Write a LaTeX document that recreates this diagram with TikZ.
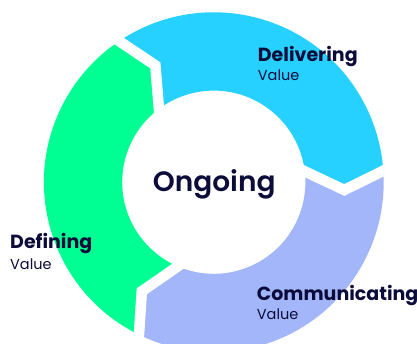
\documentclass[tikz,border=0pt]{standalone}
\usepackage{fontspec}
\setmainfont{Poppins}
\newfontfamily\ongoingfont{Poppins SemiBold}
\usepackage{tikz}

\definecolor{ciano}{HTML}{26D0FF}
\definecolor{verde}{HTML}{00FF92}
\definecolor{lilas}{HTML}{A2B6F9}
\definecolor{marinho}{HTML}{0C0C3A}

\tikzset{
  titulo/.style={anchor=base west,inner sep=0pt,text=marinho,font=\fontsize{19}{19}\selectfont\bfseries},
  valor/.style={anchor=base west,inner sep=0pt,text=marinho,font=\fontsize{14.5}{14.5}\selectfont}
}

\begin{document}
\begin{tikzpicture}[x=1pt,y=1pt]
        % Moldura
        \useasboundingbox (-213.8,-161.8) rectangle (203.2,182.2);
        \clip (-213.8,-161.8) rectangle (203.2,182.2);

        % Setores do anel
        \foreach \ang/\cor in {0/ciano,120/verde,240/lilas}{
          \fill[\cor,rotate=\ang] (123.85:169.9) arc[start angle=123.85,end angle=3.85,radius=169.9]
            -- (-3.42:130.7) -- (6.84:91.6) arc[start angle=6.84,end angle=126.84,radius=91.6]
            -- (116.58:130.7) -- cycle;
        }

        % Cortes entre os setores
        \foreach \ang in {0,120,240}{
          \draw[white,line width=10.6pt,miter limit=10,rotate=\ang] (180.2,16.7) -- (-3.42:130.7) -- (79.8,16.1);
        }

        % Texto central
        \node[anchor=base,inner sep=0pt,text=marinho,font=\fontsize{28}{28}\selectfont\ongoingfont] (centro) at (0.4,-9.5) {Ongoing};

        % Rótulos dos setores
        \node[titulo] (delivering) at (43.9,120.5) {Delivering};
        \node[valor] (deliveringV) at (43.9,101.5) {Value};
        \node[titulo] (communicating) at (42.9,-118.5) {Communicating};
        \node[valor] (communicatingV) at (42.9,-137.1) {Value};
        \node[titulo] (defining) at (-203.8,-66.5) {Defining};
        \node[valor] (definingV) at (-203.8,-87.5) {Value};
\end{tikzpicture}
\end{document}
